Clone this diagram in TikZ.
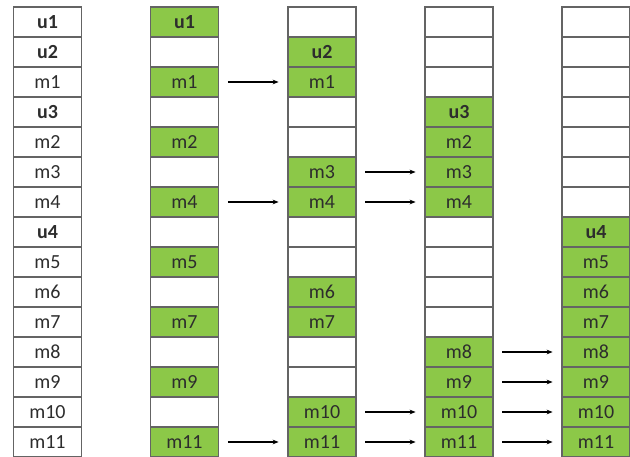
\documentclass[tikz,border=0pt]{standalone}
\usepackage{fontspec}
\setmainfont{Carlito}
\usetikzlibrary{arrows.meta}

\definecolor{memgreen}{RGB}{140,200,72}
\definecolor{cellgray}{RGB}{100,100,100}
\definecolor{txtgray}{RGB}{45,45,45}

\begin{document}
\begin{tikzpicture}[x=0.75pt,y=-0.75pt,
		cell/.style={shape=rectangle, draw=cellgray, line width=1.1pt, fill=white,
			minimum width=51pt, minimum height=22.5pt, inner sep=0pt,
			font=\fontsize{15}{15}\selectfont, text=txtgray},
		full/.style={cell, fill=memgreen},
		link/.style={-{Stealth[length=4.5pt,width=3.5pt]}, line width=0.9pt, shorten <=6.5pt, shorten >=6.5pt}
	]
	\useasboundingbox (0,0) rectangle (630,456);
	\clip (0,0) rectangle (630,456);
	% column 1: the whole list
	\foreach \lab [count=\r] in {\textbf{u1},\textbf{u2},m1,\textbf{u3},m2,m3,m4,\textbf{u4},m5,m6,m7,m8,m9,m10,m11}
		\node[cell] (a\r) at (47.5,{30*\r-8}) {\lab};
	% column 2
	\foreach \r in {2,4,...,14} \node[cell] (b\r) at (184.5,{30*\r-8}) {};
	\foreach \r/\lab in {1/\textbf{u1},3/m1,5/m2,7/m4,9/m5,11/m7,13/m9,15/m11}
		\node[full] (b\r) at (184.5,{30*\r-8}) {\lab};
	% column 3
	\foreach \r in {1,4,5,8,9,12,13} \node[cell] (c\r) at (322,{30*\r-8}) {};
	\foreach \r/\lab in {2/\textbf{u2},3/m1,6/m3,7/m4,10/m6,11/m7,14/m10,15/m11}
		\node[full] (c\r) at (322,{30*\r-8}) {\lab};
	% column 4
	\foreach \r in {1,2,3,8,9,10,11} \node[cell] (d\r) at (459,{30*\r-8}) {};
	\foreach \r/\lab in {4/\textbf{u3},5/m2,6/m3,7/m4,12/m8,13/m9,14/m10,15/m11}
		\node[full] (d\r) at (459,{30*\r-8}) {\lab};
	% column 5
	\foreach \r in {1,...,7} \node[cell] (e\r) at (596,{30*\r-8}) {};
	\foreach \r/\lab in {8/\textbf{u4},9/m5,10/m6,11/m7,12/m8,13/m9,14/m10,15/m11}
		\node[full] (e\r) at (596,{30*\r-8}) {\lab};
	% arrows
	\foreach \r in {3,7,15} \draw[link] (b\r) -- (c\r);
	\foreach \r in {6,7,14,15} \draw[link] (c\r) -- (d\r);
	\foreach \r in {12,...,15} \draw[link] (d\r) -- (e\r);
\end{tikzpicture}
\end{document}
